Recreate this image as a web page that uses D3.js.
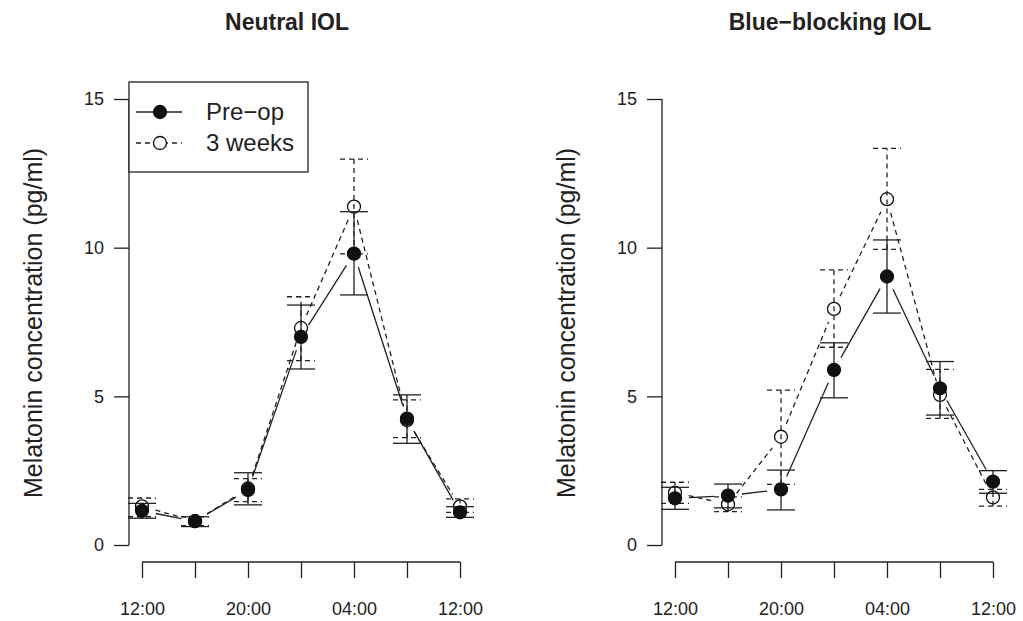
<!DOCTYPE html>
<html>
<head>
<meta charset="utf-8">
<script src="https://cdn.jsdelivr.net/npm/d3@7"></script>
<style>
  body { margin: 0; background: #fff; }
  text { font-family: "Liberation Sans", Arial, sans-serif; fill: #222; }
</style>
</head>
<body>
<script>
// sample times (index based, 12:00 appears twice)
let timeLabels = ['12:00', '16:00', '20:00', '00:00', '04:00', '08:00', '12:00'];
let yTicks = [0, 5, 10, 15];

// Neutral IOL
let neutralPre = [1.15, 0.8, 1.85, 7.0, 9.8, 4.25, 1.1];
let neutralPreLo = [0.9, 0.62, 1.35, 5.92, 8.41, 3.42, 0.93];
let neutralPreHi = [1.4, 0.95, 2.43, 8.07, 11.21, 5.05, 1.29];
let neutralWk3 = [1.3, 0.8, 1.9, 7.3, 11.38, 4.2, 1.3];
let neutralWk3Lo = [0.95, 0.65, 1.46, 6.2, 9.79, 3.61, 1.1];
let neutralWk3Hi = [1.58, 0.95, 2.23, 8.35, 12.98, 4.88, 1.55];

// Blue-blocking IOL
let bluePre = [1.57, 1.66, 1.87, 5.89, 9.03, 5.27, 2.13];
let bluePreLo = [1.2, 1.25, 1.18, 4.95, 7.8, 4.37, 1.74];
let bluePreHi = [1.94, 2.05, 2.52, 6.8, 10.26, 6.17, 2.5];
let blueWk3 = [1.76, 1.37, 3.64, 7.94, 11.63, 5.05, 1.6];
let blueWk3Lo = [1.4, 1.12, 2.04, 6.65, 9.94, 4.26, 1.31];
let blueWk3Hi = [2.11, 1.62, 5.21, 9.25, 13.34, 5.91, 1.87];

let panels = [
  { title: 'Neutral IOL', titleX: 287, axisX: 129, x0: 142, x1: 460, labelX: 42,
    pre: [neutralPre, neutralPreLo, neutralPreHi], wk3: [neutralWk3, neutralWk3Lo, neutralWk3Hi], legend: true },
  { title: 'Blue\u2212blocking IOL', titleX: 830, axisX: 662, x0: 675, x1: 993, labelX: 575,
    pre: [bluePre, bluePreLo, bluePreHi], wk3: [blueWk3, blueWk3Lo, blueWk3Hi], legend: false }
];

let width = 1023, height = 621;
let yTop = 99, yBottom = 545, xAxisY = 562;
let capHalf = 14, gap = 14, dash = '5,4';

let svg = d3.select('body').append('svg')
  .attr('width', width).attr('height', height);

let y = d3.scaleLinear().domain([0, 15]).range([yBottom, yTop]);

panels.forEach(function (p) {
  let g = svg.append('g');
  let x = d3.scalePoint()
    .domain(d3.range(timeLabels.length))
    .range([p.x0, p.x1]);

  // title
  g.append('text')
    .attr('x', p.titleX).attr('y', 30)
    .attr('text-anchor', 'middle')
    .style('font-size', '23px').style('font-weight', 'bold')
    .text(p.title);

  // y axis
  let yAxis = d3.axisLeft(y).tickValues(yTicks).tickSize(15).tickPadding(10);
  let ya = g.append('g')
    .attr('transform', 'translate(' + p.axisX + ',0)')
    .call(yAxis);
  ya.select('.domain').attr('d', 'M0,' + yBottom + 'V' + yTop);
  ya.selectAll('line, path').attr('stroke', '#222').attr('stroke-width', 1.3);
  ya.selectAll('text').style('font-size', '18px').attr('fill', '#222');

  // x axis
  let xAxis = d3.axisBottom(x).tickSize(16).tickPadding(24)
    .tickFormat(function (i) { return i % 2 === 0 ? timeLabels[i] : ''; });
  let xa = g.append('g')
    .attr('transform', 'translate(0,' + xAxisY + ')')
    .call(xAxis);
  xa.select('.domain').attr('d', 'M' + p.x0 + ',0H' + p.x1);
  xa.selectAll('line, path').attr('stroke', '#222').attr('stroke-width', 1.3);
  xa.selectAll('text').style('font-size', '18px').attr('fill', '#222');

  // y label
  g.append('text')
    .attr('transform', 'translate(' + p.labelX + ',' + 323 + ') rotate(-90)')
    .attr('text-anchor', 'middle')
    .style('font-size', '25px')
    .text('Melatonin concentration (pg/ml)');

  function drawSeries(s, dashed, filled) {
    let vals = s[0], lo = s[1], hi = s[2];
    let sg = g.append('g')
      .attr('stroke', '#222').attr('stroke-width', 1.3)
      .attr('stroke-dasharray', dashed ? dash : null);

    // error bars
    vals.forEach(function (v, i) {
      let cx = x(i);
      sg.append('line').attr('x1', cx).attr('x2', cx).attr('y1', y(lo[i])).attr('y2', y(hi[i]));
      sg.append('line').attr('x1', cx - capHalf).attr('x2', cx + capHalf).attr('y1', y(lo[i])).attr('y2', y(lo[i]));
      sg.append('line').attr('x1', cx - capHalf).attr('x2', cx + capHalf).attr('y1', y(hi[i])).attr('y2', y(hi[i]));
    });

    // connecting lines with gaps round the points
    for (let i = 0; i < vals.length - 1; i++) {
      let ax = x(i), ay = y(vals[i]), bx = x(i + 1), by = y(vals[i + 1]);
      let len = Math.hypot(bx - ax, by - ay);
      if (len <= 2 * gap) continue;
      let ux = (bx - ax) / len, uy = (by - ay) / len;
      sg.append('line')
        .attr('x1', ax + ux * gap).attr('y1', ay + uy * gap)
        .attr('x2', bx - ux * gap).attr('y2', by - uy * gap);
    }

    // points
    g.selectAll(null).data(vals).enter().append('circle')
      .attr('cx', function (d, i) { return x(i); })
      .attr('cy', function (d) { return y(d); })
      .attr('r', 6.5)
      .attr('fill', filled ? '#111' : 'none')
      .attr('stroke', '#111').attr('stroke-width', 1.3);
  }

  drawSeries(p.wk3, true, false);
  drawSeries(p.pre, false, true);

  if (p.legend) {
    let lg = g.append('g');
    lg.append('rect')
      .attr('x', p.axisX).attr('y', 82).attr('width', 179).attr('height', 90)
      .attr('fill', '#fff').attr('stroke', '#222').attr('stroke-width', 1.3);
    let rows = [
      { label: 'Pre\u2212op', y: 112, dashed: false, filled: true },
      { label: '3 weeks', y: 143, dashed: true, filled: false }
    ];
    rows.forEach(function (r) {
      lg.append('line')
        .attr('x1', 136).attr('x2', 182).attr('y1', r.y).attr('y2', r.y)
        .attr('stroke', '#222').attr('stroke-width', 1.3)
        .attr('stroke-dasharray', r.dashed ? dash : null);
      lg.append('circle')
        .attr('cx', 160).attr('cy', r.y).attr('r', 6.5)
        .attr('fill', r.filled ? '#111' : '#fff')
        .attr('stroke', '#111').attr('stroke-width', 1.3);
      lg.append('text')
        .attr('x', 206).attr('y', r.y + 8)
        .style('font-size', '24px')
        .text(r.label);
    });
  }
});
</script>
</body>
</html>
